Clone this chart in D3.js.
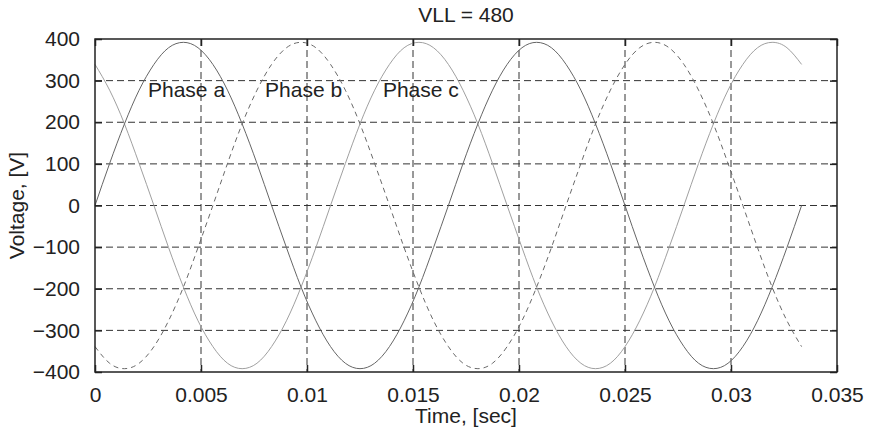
<!DOCTYPE html>
<html>
<head>
<meta charset="utf-8">
<script src="https://cdn.jsdelivr.net/npm/d3@7"></script>
<style>
  html, body { margin: 0; padding: 0; background: #fff; }
  svg { display: block; font-family: "Liberation Sans", Arial, Helvetica, sans-serif; }
</style>
</head>
<body>
<svg id="chart" width="872" height="435"></svg>
<script>
// Sample times over two 60 Hz cycles, 15° apart [s]
const time = [0, 0.00069, 0.00139, 0.00208, 0.00278, 0.00347, 0.00417, 0.00486,
  0.00556, 0.00625, 0.00694, 0.00764, 0.00833, 0.00903, 0.00972, 0.01042,
  0.01111, 0.01181, 0.01250, 0.01319, 0.01389, 0.01458, 0.01528, 0.01597,
  0.01667, 0.01736, 0.01806, 0.01875, 0.01944, 0.02014, 0.02083, 0.02153,
  0.02222, 0.02292, 0.02361, 0.02431, 0.02500, 0.02569, 0.02639, 0.02708,
  0.02778, 0.02847, 0.02917, 0.02986, 0.03056, 0.03125, 0.03194, 0.03264, 0.03333];

// Phase voltages [V]
const phaseA = [0, 101, 196, 277, 339, 379, 392, 379, 339, 277, 196, 101,
  0, -101, -196, -277, -339, -379, -392, -379, -339, -277, -196, -101,
  0, 101, 196, 277, 339, 379, 392, 379, 339, 277, 196, 101,
  0, -101, -196, -277, -339, -379, -392, -379, -339, -277, -196, -101, 0];
const phaseB = [-339, -379, -392, -379, -339, -277, -196, -101, 0, 101, 196, 277,
  339, 379, 392, 379, 339, 277, 196, 101, 0, -101, -196, -277,
  -339, -379, -392, -379, -339, -277, -196, -101, 0, 101, 196, 277,
  339, 379, 392, 379, 339, 277, 196, 101, 0, -101, -196, -277, -339];
const phaseC = [339, 277, 196, 101, 0, -101, -196, -277, -339, -379, -392, -379,
  -339, -277, -196, -101, 0, 101, 196, 277, 339, 379, 392, 379,
  339, 277, 196, 101, 0, -101, -196, -277, -339, -379, -392, -379,
  -339, -277, -196, -101, 0, 101, 196, 277, 339, 379, 392, 379, 339];

// Axis ticks
const xTicks = [0, 0.005, 0.01, 0.015, 0.02, 0.025, 0.03, 0.035];
const xTickLabels = ["0", "0.005", "0.01", "0.015", "0.02", "0.025", "0.03", "0.035"];
const yTicks = [-400, -300, -200, -100, 0, 100, 200, 300, 400];
const yTickLabels = ["\u2212400", "\u2212300", "\u2212200", "\u2212100", "0", "100", "200", "300", "400"];

// Curve labels, anchored in data coordinates (time, voltage)
const labelText = ["Phase a", "Phase b", "Phase c"];
const labelTime = [0.0025, 0.00802, 0.01358];
const labelVolt = [261, 261, 261];

const titleText = "VLL = 480";
const xTitle = "Time, [sec]";
const yTitle = "Voltage, [V]";

(function draw() {
  const svg = d3.select("#chart");
  const pL = 95, pR = 837, pT = 39, pB = 372;

  const x = d3.scaleLinear().domain([0, 0.035]).range([pL, pR]);
  const y = d3.scaleLinear().domain([-400, 400]).range([pB, pT]);

  const fontSize = 21;

  // Dashed grid
  const grid = svg.append("g").attr("stroke", "#333").attr("stroke-width", 1)
    .attr("stroke-dasharray", "7,4").attr("fill", "none");
  xTicks.filter(t => t > 0 && t < 0.035).forEach(t => {
    grid.append("line").attr("x1", x(t)).attr("x2", x(t)).attr("y1", pT).attr("y2", pB);
  });
  yTicks.filter(v => v > -400 && v < 400).forEach(v => {
    grid.append("line").attr("x1", pL).attr("x2", pR).attr("y1", y(v)).attr("y2", y(v));
  });

  // Phase curves
  const line = (vals) => d3.line()
    .x((d, i) => x(time[i]))
    .y(d => y(d))
    .curve(d3.curveNatural)(vals);

  svg.append("path").attr("d", line(phaseC)).attr("fill", "none")
    .attr("stroke", "#a0a0a0").attr("stroke-width", 1);
  svg.append("path").attr("d", line(phaseB)).attr("fill", "none")
    .attr("stroke", "#6a6a6a").attr("stroke-width", 1).attr("stroke-dasharray", "5,4");
  svg.append("path").attr("d", line(phaseA)).attr("fill", "none")
    .attr("stroke", "#666").attr("stroke-width", 1);

  // Axes with inward ticks on all four sides
  const tickLen = 7;
  const xAxisB = d3.axisBottom(x).tickValues(xTicks).tickSize(-tickLen).tickPadding(15)
    .tickFormat((d, i) => xTickLabels[i]);
  const xAxisT = d3.axisTop(x).tickValues(xTicks).tickSize(-tickLen).tickFormat("");
  const yAxisL = d3.axisLeft(y).tickValues(yTicks).tickSize(-tickLen).tickPadding(15)
    .tickFormat((d, i) => yTickLabels[i]);
  const yAxisR = d3.axisRight(y).tickValues(yTicks).tickSize(-tickLen).tickFormat("");

  function styleAxis(g) {
    g.select(".domain").remove();
    g.selectAll(".tick line").attr("stroke", "#222").attr("stroke-width", 1.5);
    g.selectAll(".tick text").attr("fill", "#222").style("font-size", fontSize + "px")
      .style("font-family", "'Liberation Sans', Arial, sans-serif");
  }
  svg.append("g").attr("transform", `translate(0,${pB})`).call(xAxisB).call(styleAxis);
  svg.append("g").attr("transform", `translate(0,${pT})`).call(xAxisT).call(styleAxis);
  svg.append("g").attr("transform", `translate(${pL},0)`).call(yAxisL).call(styleAxis);
  svg.append("g").attr("transform", `translate(${pR},0)`).call(yAxisR).call(styleAxis);

  // Frame
  svg.append("rect").attr("x", pL).attr("y", pT)
    .attr("width", pR - pL).attr("height", pB - pT)
    .attr("fill", "none").attr("stroke", "#222").attr("stroke-width", 1.5);

  // Curve labels
  labelText.forEach((t, i) => {
    svg.append("text").attr("x", x(labelTime[i])).attr("y", y(labelVolt[i]))
      .attr("fill", "#222").style("font-size", fontSize + "px").text(t);
  });

  // Titles
  svg.append("text").attr("x", (pL + pR) / 2).attr("y", 22)
    .attr("text-anchor", "middle").attr("fill", "#222")
    .style("font-size", fontSize + "px").text(titleText);
  svg.append("text").attr("x", (pL + pR) / 2).attr("y", 423)
    .attr("text-anchor", "middle").attr("fill", "#222")
    .style("font-size", fontSize + "px").text(xTitle);
  svg.append("text")
    .attr("transform", `translate(24,${(pT + pB) / 2}) rotate(-90)`)
    .attr("text-anchor", "middle").attr("fill", "#222")
    .style("font-size", fontSize + "px").text(yTitle);
})();
</script>
</body>
</html>
